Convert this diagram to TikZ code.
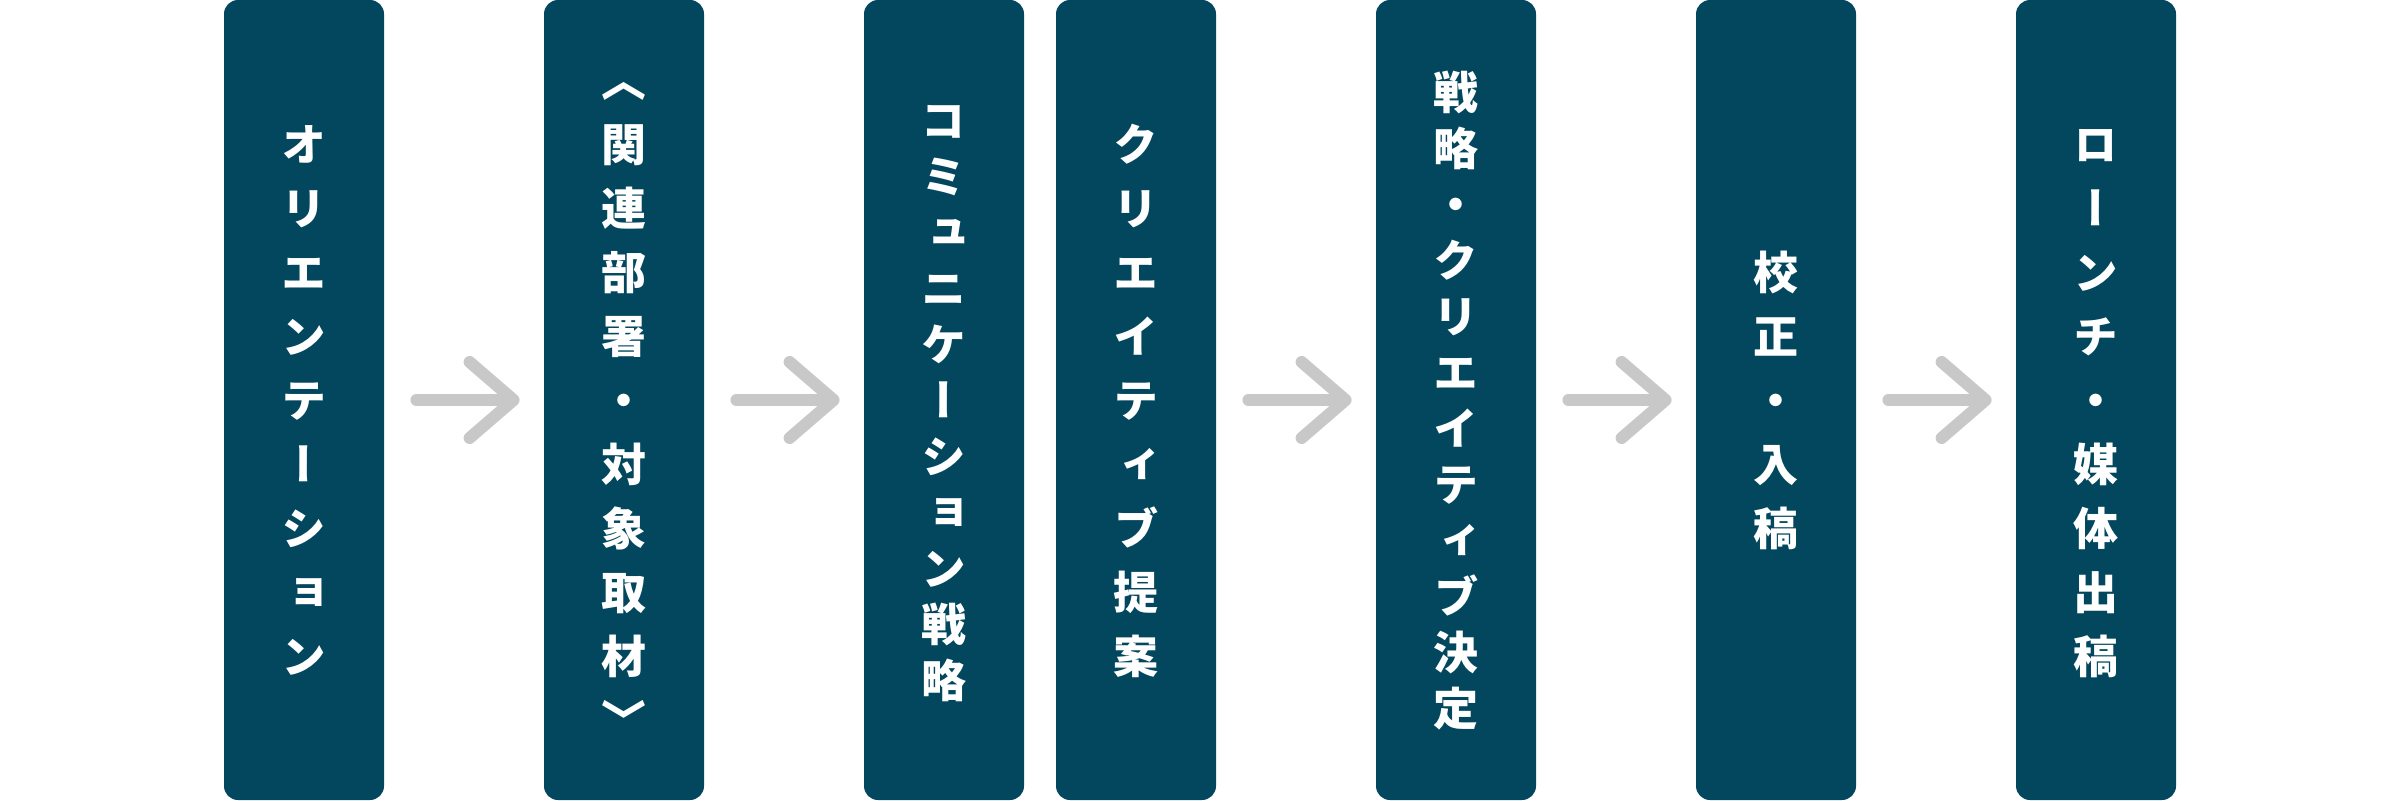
\documentclass[tikz,border=0pt]{standalone}
\usepackage{fontspec}
\newfontfamily\jpfont[RawFeature={+vert}]{Noto Sans CJK JP}
\usetikzlibrary{positioning,arrows.meta}

\definecolor{stepblue}{RGB}{2,71,94}
\definecolor{flowgray}{RGB}{200,200,200}

% one character per row, rows #1 apart
\newcommand\tate[2]{%
  \vbox{\offinterlineskip
    \foreach \ch in {#2}{%
      \vbox to #1{\vss\hbox to 1em{\hss\ch\hss\vrule width 0pt height .88em depth .12em}\vss}}}}

\tikzset{
  stepbox/.style={rectangle,rounded corners=7pt,fill=stepblue,text=white,
    minimum width=80pt,minimum height=400pt,inner sep=0pt,
    font=\jpfont\bfseries\fontsize{22.5pt}{32pt}\selectfont},
  flow/.style={draw=flowgray,line width=6pt,line cap=round,
    -{Straight Barb[length=22pt,width=38pt,round]},
    shorten <=16pt,shorten >=12pt}
}

\begin{document}
\begin{tikzpicture}[x=0.5pt,y=0.5pt,node distance=160pt,on grid]
  \useasboundingbox (0,0) rectangle (2403,800);
  \path
  node[stepbox] (orient) at (304,400) {\tate{32pt}{オ,リ,エ,ン,テ,ー,シ,ョ,ン}}
  node[stepbox,right=of orient] (interview) {\tate{32pt}{〈,関,連,部,署,・,対,象,取,材,〉}}
  node[stepbox,right=of interview] (comm) {\tate{28pt}{コ,ミ,ュ,ニ,ケ,ー,シ,ョ,ン,戦,略}}
  node[stepbox,right=96pt of comm] (proposal) {\tate{32pt}{ク,リ,エ,イ,テ,ィ,ブ,提,案}}
  node[stepbox,right=of proposal] (decision) {\tate{28pt}{戦,略,・,ク,リ,エ,イ,テ,ィ,ブ,決,定}}
  node[stepbox,right=of decision] (proof) {\tate{32pt}{校,正,・,入,稿}}
  node[stepbox,right=of proof] (launch) {\tate{32pt}{ロ,ー,ン,チ,・,媒,体,出,稿}}
  ;
  \path[flow]
  (orient) edge (interview)
  (interview) edge (comm)
  (proposal) edge (decision)
  (decision) edge (proof)
  (proof) edge (launch)
  ;
\end{tikzpicture}
\end{document}
